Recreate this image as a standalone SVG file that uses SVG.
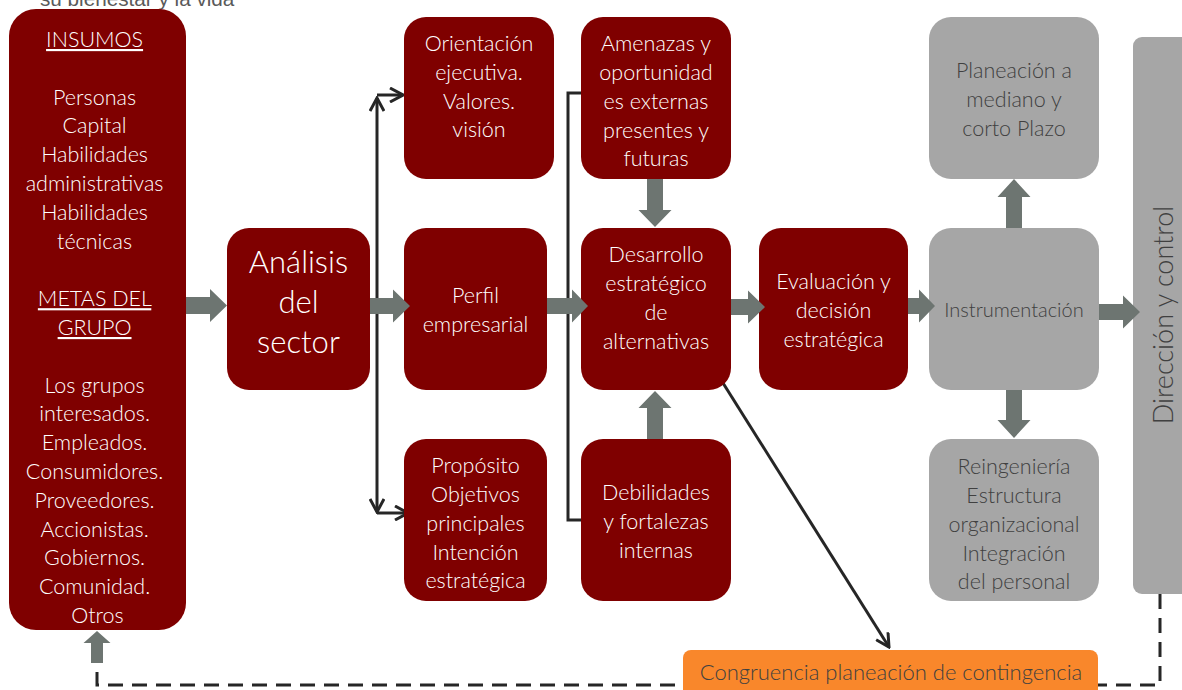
<svg xmlns="http://www.w3.org/2000/svg" width="1182" height="690" viewBox="0 0 1182 690">
<defs>
<style>
.box{fill:#7f0000}
.gbox{fill:#a6a6a6}
.t{font-family:Lato,"Open Sans","Liberation Sans",sans-serif;font-weight:300;font-size:21.5px;text-anchor:middle}
.w{fill:#ffffff}
.d{fill:#404040}
.u{text-decoration:underline}
.ln{fill:none;stroke:#262626;stroke-width:3}
.ba{fill:#6d7571}
</style>
<marker id="chev" viewBox="0 0 16 16" refX="14" refY="8" markerWidth="16" markerHeight="16" markerUnits="userSpaceOnUse" orient="auto-start-reverse">
<path d="M1,1 L14,8 L1,15" fill="none" stroke="#262626" stroke-width="3"/>
</marker>
</defs>
<rect width="1182" height="690" fill="#ffffff"/>
<text x="40" y="6" font-family="Liberation Sans,Arial,sans-serif" font-size="20.7" fill="#5a5a5a">su bienestar y la vida</text>

<g id="connectors">
<path class="ln" d="M377,306 V98" marker-end="url(#chev)"/>
<path class="ln" d="M377,306 V512" marker-end="url(#chev)"/>
<path class="ln" d="M377,95 H403" marker-end="url(#chev)"/>
<path class="ln" d="M377,513 H408" marker-end="url(#chev)"/>
<path class="ln" d="M581,93 H568 V520 H581"/>
<path class="ln" d="M723,383 L889,647" marker-end="url(#chev)"/>
<path class="ln" d="M1160,594 V685 H97 V663" stroke-dasharray="15 9"/>
</g>

<g id="insumos">
<rect class="box" x="9" y="9" width="177" height="621" rx="27"/>
<text class="t w" x="97.5" y="47"><tspan class="u">INSUMOS</tspan>
<tspan x="97.5" y="104.6">Personas</tspan>
<tspan x="97.5" y="133.4">Capital</tspan>
<tspan x="97.5" y="162.2">Habilidades</tspan>
<tspan x="97.5" y="191">administrativas</tspan>
<tspan x="97.5" y="219.8">Habilidades</tspan>
<tspan x="97.5" y="248.6">técnicas</tspan>
<tspan x="97.5" y="306.2" class="u">METAS DEL</tspan>
<tspan x="97.5" y="335" class="u">GRUPO</tspan>
<tspan x="97.5" y="392.6">Los grupos</tspan>
<tspan x="97.5" y="421.4">interesados.</tspan>
<tspan x="97.5" y="450.2">Empleados.</tspan>
<tspan x="97.5" y="479">Consumidores.</tspan>
<tspan x="97.5" y="507.8">Proveedores.</tspan>
<tspan x="97.5" y="536.6">Accionistas.</tspan>
<tspan x="97.5" y="565.4">Gobiernos.</tspan>
<tspan x="97.5" y="594.2">Comunidad.</tspan>
<tspan x="97.5" y="623">Otros</tspan></text>
</g>

<g id="analisis">
<rect class="box" x="227" y="228" width="143" height="162" rx="22"/>
<text class="t w" style="font-size:31px"><tspan x="298.5" y="273">Análisis</tspan><tspan x="298.5" y="313">del</tspan><tspan x="298.5" y="353">sector</tspan></text>
</g>

<g id="orientacion">
<rect class="box" x="404" y="17" width="150" height="162" rx="22"/>
<text class="t w"><tspan x="479" y="51">Orientación</tspan><tspan x="479" y="80">ejecutiva.</tspan><tspan x="479" y="109">Valores.</tspan><tspan x="479" y="137">visión</tspan></text>
</g>

<g id="perfil">
<rect class="box" x="404" y="228" width="143" height="162" rx="22"/>
<text class="t w"><tspan x="475.5" y="303">Perfil</tspan><tspan x="475.5" y="332">empresarial</tspan></text>
</g>

<g id="proposito">
<rect class="box" x="404" y="439" width="143" height="162" rx="22"/>
<text class="t w"><tspan x="475.5" y="473">Propósito</tspan><tspan x="475.5" y="502">Objetivos</tspan><tspan x="475.5" y="531">principales</tspan><tspan x="475.5" y="560">Intención</tspan><tspan x="475.5" y="588">estratégica</tspan></text>
</g>

<g id="amenazas">
<rect class="box" x="581" y="17" width="150" height="162" rx="22"/>
<text class="t w"><tspan x="656" y="51">Amenazas y</tspan><tspan x="656" y="80">oportunidad</tspan><tspan x="656" y="109">es externas</tspan><tspan x="656" y="138">presentes y</tspan><tspan x="656" y="166">futuras</tspan></text>
</g>

<g id="desarrollo">
<rect class="box" x="581" y="228" width="150" height="162" rx="22"/>
<text class="t w"><tspan x="656" y="262">Desarrollo</tspan><tspan x="656" y="291">estratégico</tspan><tspan x="656" y="320">de</tspan><tspan x="656" y="349">alternativas</tspan></text>
</g>

<g id="debilidades">
<rect class="box" x="581" y="439" width="150" height="162" rx="22"/>
<text class="t w"><tspan x="656" y="500">Debilidades</tspan><tspan x="656" y="529">y fortalezas</tspan><tspan x="656" y="558">internas</tspan></text>
</g>

<g id="evaluacion">
<rect class="box" x="759" y="228" width="149" height="162" rx="22"/>
<text class="t w"><tspan x="833.5" y="289">Evaluación y</tspan><tspan x="833.5" y="318">decisión</tspan><tspan x="833.5" y="347">estratégica</tspan></text>
</g>

<g id="planeacion">
<rect class="gbox" x="929" y="17" width="170" height="162" rx="22"/>
<text class="t d"><tspan x="1014" y="78">Planeación a</tspan><tspan x="1014" y="107">mediano y</tspan><tspan x="1014" y="136">corto Plazo</tspan></text>
</g>

<g id="instrumentacion">
<rect class="gbox" x="929" y="228" width="170" height="162" rx="22"/>
<text class="t d" x="1014" y="317" style="font-size:20px">Instrumentación</text>
</g>

<g id="reingenieria">
<rect class="gbox" x="929" y="439" width="170" height="162" rx="22"/>
<text class="t d"><tspan x="1014" y="474">Reingeniería</tspan><tspan x="1014" y="503">Estructura</tspan><tspan x="1014" y="532">organizacional</tspan><tspan x="1014" y="561">Integración</tspan><tspan x="1014" y="589">del personal</tspan></text>
</g>

<g id="direccion">
<rect class="gbox" x="1133" y="37" width="70" height="557" rx="9"/>
<text class="t d" style="font-size:27px" transform="translate(1173,315) rotate(-90)" x="0" y="0">Dirección y control</text>
</g>

<g id="congruencia">
<rect x="683" y="650" width="415" height="60" rx="8" fill="#f9872b"/>
<text class="t d" x="891" y="680" style="font-size:22px">Congruencia planeación de contingencia</text>
</g>

<g id="flow-arrows">
<polygon class="ba" points="186,297 210,297 210,289 227,305.5 210,322 210,314 186,314"/>
<polygon class="ba" points="370,298 393,298 393,289.5 410,306 393,322.5 393,314 370,314"/>
<polygon class="ba" points="547,298 572,298 572,289.5 588,306 572,322.5 572,314 547,314"/>
<polygon class="ba" points="731,299 748,299 748,290.5 765,307 748,323.5 748,315 731,315"/>
<polygon class="ba" points="908,298 919,298 919,289.5 935,306 919,322.5 919,314 908,314"/>
<polygon class="ba" points="1099,304 1123,304 1123,295.5 1140,312 1123,328.5 1123,320 1099,320"/>
<polygon class="ba" points="1006,228 1006,197 997.5,197 1014,179 1030.5,197 1022,197 1022,228"/>
<polygon class="ba" points="1006,390 1006,420 997.5,420 1014,438 1030.5,420 1022,420 1022,390"/>
<polygon class="ba" points="647,179 647,210 638.5,210 655,227 671.5,210 663,210 663,179"/>
<polygon class="ba" points="647,439 647,408 638.5,408 655,391 671.5,408 663,408 663,439"/>
<polygon class="ba" points="91,663 91,643 83.5,643 97,631 110.5,643 103,643 103,663"/>
</g>
</svg>
